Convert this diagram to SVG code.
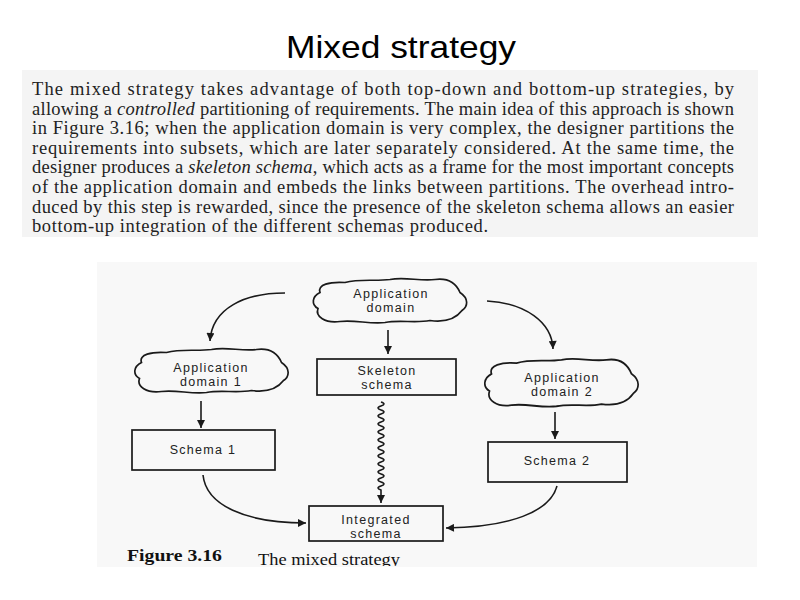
<svg xmlns="http://www.w3.org/2000/svg" width="800" height="600" viewBox="0 0 800 600">
<style>
.title{font-family:"Liberation Sans",Arial,sans-serif;font-size:32px;fill:#000}
.para{font-family:"Liberation Serif","Times New Roman",serif;font-size:18.5px;fill:#222}
.lbl{font-family:"Liberation Sans",Arial,sans-serif;font-size:12.5px;fill:#222;letter-spacing:1.3px;text-anchor:middle}
.shape{fill:none;stroke:#1a1a1a;stroke-width:1.7}
.conn{fill:none;stroke:#1a1a1a;stroke-width:1.6}
.cap{font-family:"Liberation Serif","Times New Roman",serif;font-size:17px;fill:#111}
</style>
<defs>
<marker id="ah" viewBox="0 0 10 10" refX="10" refY="5" markerUnits="userSpaceOnUse" markerWidth="9" markerHeight="8" orient="auto">
<path d="M0,0 L10,5 L0,10 z" fill="#1a1a1a"/>
</marker>
<path id="cloud" d="M -70,-8 C -73,-16 -60,-19 -45,-18 C -30,-22 -15,-19 0,-21 C 15,-24 30,-19 45,-21 C 60,-23 67,-15 70,-8 C 79,-2 78,6 72,10 C 66,18 55,22 40,20 C 25,23 10,19 -5,22 C -20,24 -35,19 -50,21 C -65,23 -75,16 -72,8 C -79,4 -78,-4 -70,-8 Z"/>
<clipPath id="capclip"><rect x="0" y="0" width="800" height="566"/></clipPath>
</defs>
<rect x="0" y="0" width="800" height="600" fill="#fff"/>
<text class="title" x="286" y="58" textLength="230" lengthAdjust="spacingAndGlyphs">Mixed strategy</text>
<g id="paragraph">
<rect x="22" y="70" width="736" height="167" fill="#f4f4f4"/>
<text class="para" x="32" y="95" textLength="702" lengthAdjust="spacing">The mixed strategy takes advantage of both top-down and bottom-up strategies, by</text>
<text class="para" x="32" y="114.6" textLength="702" lengthAdjust="spacing">allowing a <tspan font-style="italic">controlled</tspan> partitioning of requirements. The main idea of this approach is shown</text>
<text class="para" x="32" y="134.2" textLength="702" lengthAdjust="spacing">in Figure 3.16; when the application domain is very complex, the designer partitions the</text>
<text class="para" x="32" y="153.8" textLength="702" lengthAdjust="spacing">requirements into subsets, which are later separately considered. At the same time, the</text>
<text class="para" x="32" y="173.4" textLength="702" lengthAdjust="spacing">designer produces a <tspan font-style="italic">skeleton schema</tspan>, which acts as a frame for the most important concepts</text>
<text class="para" x="32" y="193" textLength="702" lengthAdjust="spacing">of the application domain and embeds the links between partitions. The overhead intro-</text>
<text class="para" x="32" y="212.6" textLength="702" lengthAdjust="spacing">duced by this step is rewarded, since the presence of the skeleton schema allows an easier</text>
<text class="para" x="32" y="232.2" textLength="456" lengthAdjust="spacing">bottom-up integration of the different schemas produced.</text>
</g>
<rect x="97" y="262" width="660" height="305" fill="#f8f8f8"/>
<g id="app-domain">
<use href="#cloud" class="shape" transform="translate(390,300.5)"/>
<text class="lbl" x="391" y="298">Application</text>
<text class="lbl" x="391" y="312">domain</text>
</g>
<g id="app-domain-1">
<use href="#cloud" class="shape" transform="translate(211.5,370.5)"/>
<text class="lbl" x="211" y="372">Application</text>
<text class="lbl" x="211" y="386">domain 1</text>
</g>
<g id="app-domain-2">
<use href="#cloud" class="shape" transform="translate(561.5,382.5) scale(1,1.08)"/>
<text class="lbl" x="562" y="382">Application</text>
<text class="lbl" x="562" y="396">domain 2</text>
</g>
<g id="skeleton">
<rect class="shape" x="317" y="359" width="139" height="36"/>
<text class="lbl" x="387" y="375">Skeleton</text>
<text class="lbl" x="387" y="389">schema</text>
</g>
<g id="schema-1">
<rect class="shape" x="132" y="430" width="143" height="40"/>
<text class="lbl" x="203" y="454">Schema 1</text>
</g>
<g id="schema-2">
<rect class="shape" x="488" y="442" width="139" height="40"/>
<text class="lbl" x="557" y="465">Schema 2</text>
</g>
<g id="integrated">
<rect class="shape" x="309" y="506" width="134" height="35"/>
<text class="lbl" x="376" y="524">Integrated</text>
<text class="lbl" x="376" y="538">schema</text>
</g>
<g id="connectors">
<path class="conn" marker-end="url(#ah)" d="M285,293 C245,293 212,308 210,341"/>
<path class="conn" marker-end="url(#ah)" d="M388,330 L388,354"/>
<path class="conn" marker-end="url(#ah)" d="M487,301 C525,303 552,322 553,349"/>
<path class="conn" marker-end="url(#ah)" d="M201,401 L201,428"/>
<path class="conn" marker-end="url(#ah)" d="M555,412 L555,439"/>
<path class="conn" marker-end="url(#ah)" d="M381,402 q6,2 0,4 t0,4 t0,4 t0,4 t0,4 t0,4 t0,4 t0,4 t0,4 t0,4 t0,4 t0,4 t0,4 t0,4 t0,4 t0,4 t0,4 t0,4 t0,4 t0,4 t0,4 t0,4 l0,13"/>
<path class="conn" marker-end="url(#ah)" d="M203,475 C206,505 245,523 306,523"/>
<path class="conn" marker-end="url(#ah)" d="M557,486 C550,512 510,527 446,528"/>
</g>
<g clip-path="url(#capclip)">
<text class="cap" x="127" y="561" font-weight="bold" textLength="95" lengthAdjust="spacingAndGlyphs">Figure 3.16</text>
<text class="cap" x="258" y="565" textLength="142" lengthAdjust="spacingAndGlyphs">The mixed strategy</text>
</g>
</svg>
